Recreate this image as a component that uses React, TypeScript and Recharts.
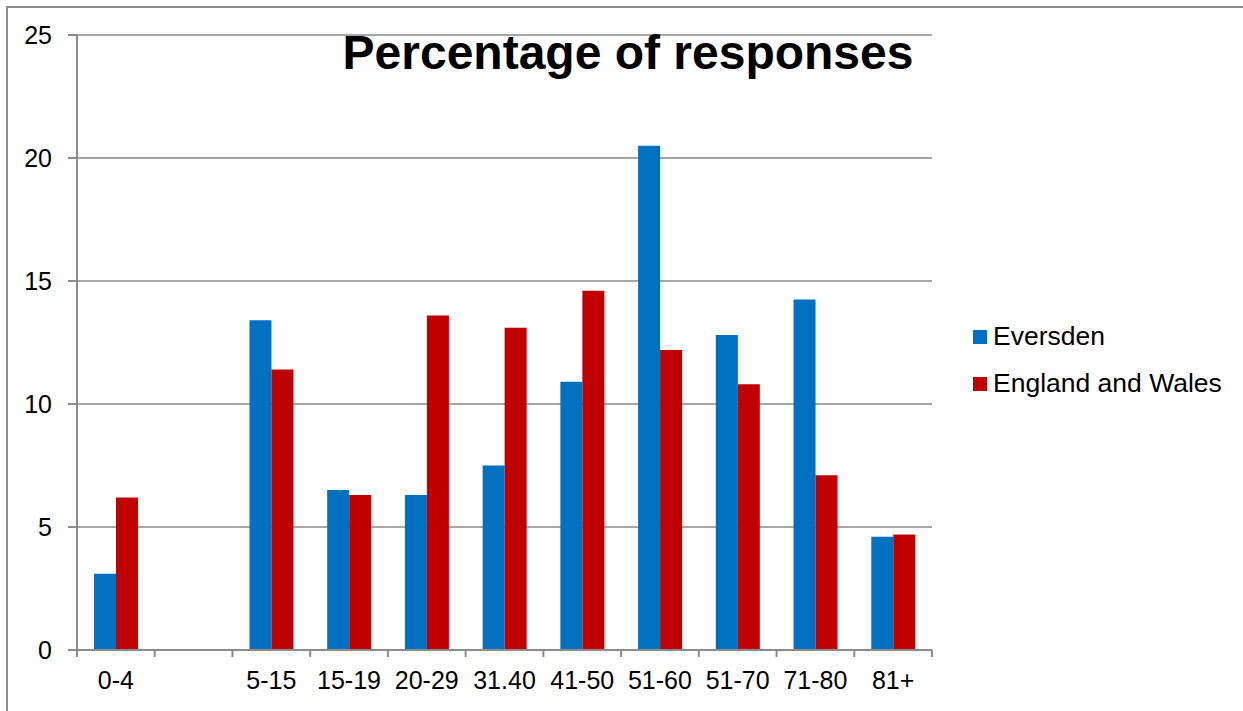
import React from "react";
import { BarChart, Bar, XAxis, YAxis, CartesianGrid, Legend } from "recharts";

const categories = ["0-4", "", "5-15", "15-19", "20-29", "31.40", "41-50", "51-60", "51-70", "71-80", "81+"];
const eversden = [3.1, null, 13.4, 6.5, 6.3, 7.5, 10.9, 20.5, 12.8, 14.25, 4.6];
const englandWales = [6.2, null, 11.4, 6.3, 13.6, 13.1, 14.6, 12.2, 10.8, 7.1, 4.7];
const yTicks = [0, 5, 10, 15, 20, 25];

const data = categories.map((c, i) => ({
  cat: c,
  key: i,
  eversden: eversden[i],
  england: englandWales[i],
}));

const FONT = "'Liberation Sans', Arial, sans-serif";
const X_TICK_MARGIN = 21;
const X_TICK_LEN = 7;

const legendItems = [
  { name: "Eversden", color: "#0070C0" },
  { name: "England and Wales", color: "#C00000" },
];

function LegendContent() {
  return (
    <div style={{ fontFamily: FONT, fontSize: 26.5, color: "#000" }}>
      {legendItems.map((it) => (
        <div key={it.name} style={{ display: "flex", alignItems: "center", height: 47 }}>
          <div style={{ width: 14, height: 14, background: it.color, marginRight: 6 }} />
          <span>{it.name}</span>
        </div>
      ))}
    </div>
  );
}

const CatTick = (props: any) => {
  const { x, y, payload, index } = props;
  const half = payload?.offset ?? 0;
  const axisY = y - X_TICK_MARGIN;
  const idx = payload?.index ?? index;
  return (
    <g>
      <line x1={x - half} x2={x - half} y1={axisY} y2={axisY + X_TICK_LEN} stroke="#8c8c8c" strokeWidth={2} />
      {idx === categories.length - 1 && (
        <line x1={x + half} x2={x + half} y1={axisY} y2={axisY + X_TICK_LEN} stroke="#8c8c8c" strokeWidth={2} />
      )}
      <text x={x} y={y} dy="0.71em" textAnchor="middle" fontFamily={FONT} fontSize={25} fill="#000">
        {categories[idx] ?? ""}
      </text>
    </g>
  );
};

export default function App() {
  return (
    <div style={{ position: "absolute", left: 0, top: 0, width: 1243, height: 711, background: "#fff", overflow: "hidden" }}>
      <div
        style={{
          position: "absolute",
          left: 6,
          top: 6,
          width: 1300,
          height: 800,
          borderLeft: "2px solid #8c8c8c",
          borderTop: "2px solid #8c8c8c",
        }}
      />
      <div
        style={{
          position: "absolute",
          left: 0,
          width: 1256,
          top: 25,
          textAlign: "center",
          fontFamily: FONT,
          fontWeight: "bold",
          fontSize: 48,
          lineHeight: "56px",
          color: "#000",
          zIndex: 2,
        }}
      >
        Percentage of responses
      </div>
      <div style={{ position: "absolute", left: 0, top: 0 }}>
        <BarChart
          width={1243}
          height={711}
          data={data}
          margin={{ top: 35, right: 311, bottom: 0, left: 0 }}
          barCategoryGap={17}
          barGap={0}
        >
          <CartesianGrid vertical={false} stroke="#a6a6a6" strokeWidth={2} />
          <XAxis
            dataKey="key"
            type="category"
            tick={<CatTick />}
            tickLine={false}
            tickSize={0}
            tickMargin={X_TICK_MARGIN}
            axisLine={{ stroke: "#8c8c8c", strokeWidth: 2 }}
            height={61}
            interval={0}
          />
          <YAxis
            domain={[0, 25]}
            ticks={yTicks}
            width={77}
            tickSize={9}
            tickMargin={16}
            axisLine={{ stroke: "#8c8c8c", strokeWidth: 2 }}
            tickLine={{ stroke: "#8c8c8c", strokeWidth: 2 }}
            tick={{ fontFamily: FONT, fontSize: 25, fill: "#000" }}
          />
          <Legend
            layout="vertical"
            verticalAlign="middle"
            align="center"
            content={<LegendContent />}
            wrapperStyle={{ position: "absolute", left: 973, top: 313, width: 270 }}
          />
          <Bar dataKey="eversden" name="Eversden" fill="#0070C0" isAnimationActive={false} />
          <Bar dataKey="england" name="England and Wales" fill="#C00000" isAnimationActive={false} />
        </BarChart>
      </div>
    </div>
  );
}
